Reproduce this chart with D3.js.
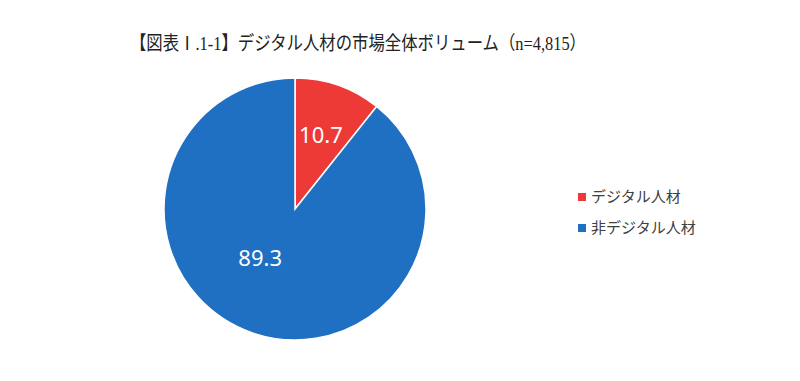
<!DOCTYPE html>
<html>
<head>
<meta charset="utf-8">
<script src="https://cdn.jsdelivr.net/npm/d3@7"></script>
<style>
  body { margin: 0; background: #fff; }
  svg { display: block; }
</style>
</head>
<body>
<div id="chart"></div>
<script>
// data
var categories = ['デジタル人材', '非デジタル人材'];
var values = [10.7, 89.3];
var colors = ['#EE3A36', '#1F6FC2'];
var title = '【図表Ⅰ.1-1】デジタル人材の市場全体ボリューム（n=4,815）';

var width = 800;
var height = 381;
var radius = 131;
var cx = 295, cy = 209;

var svg = d3.select('#chart').append('svg')
  .attr('width', width)
  .attr('height', height);

svg.append('text')
  .attr('x', 130)
  .attr('y', 50)
  .attr('font-family', '"Liberation Serif", "Noto Sans CJK JP", serif')
  .attr('font-size', 19)
  .attr('textLength', 456)
  .attr('lengthAdjust', 'spacingAndGlyphs')
  .attr('fill', '#222')
  .text(title);

var dataset = categories.map(function (c, i) { return { label: c, count: values[i] }; });

var pie = d3.pie()
  .value(function (d) { return d.count; })
  .sort(null);

var arc = d3.arc().innerRadius(0).outerRadius(radius);

var g = svg.append('g')
  .attr('transform', 'translate(' + cx + ',' + cy + ')');

var color = d3.scaleOrdinal().domain(categories).range(colors);

g.selectAll('path')
  .data(pie(dataset))
  .enter()
  .append('path')
  .attr('d', arc)
  .attr('fill', function (d) { return color(d.data.label); })
  .attr('stroke', '#fff')
  .attr('stroke-width', 1.5);

// label placement: roughly like Excel's best-fit
var labelArcs = [
  d3.arc().innerRadius(radius * 0.6).outerRadius(radius * 0.6),
  d3.arc().innerRadius(radius * 0.46).outerRadius(radius * 0.46)
];
var labelShift = [0, 0.28];

g.selectAll('.lbl')
  .data(pie(dataset))
  .enter()
  .append('text')
  .attr('class', 'lbl')
  .attr('transform', function (d, i) {
    var mid = (d.startAngle + d.endAngle) / 2 + labelShift[i];
    var p = labelArcs[i].centroid({ startAngle: mid, endAngle: mid });
    return 'translate(' + p[0] + ',' + p[1] + ')';
  })
  .attr('text-anchor', 'middle')
  .attr('dy', '0.36em')
  .attr('font-family', '"Noto Sans", "Open Sans", sans-serif')
  .attr('font-size', 22)
  .attr('fill', '#fff')
  .text(function (d) { return d.data.count.toFixed(1); });

var legend = svg.selectAll('.legend')
  .data(categories)
  .enter()
  .append('g')
  .attr('class', 'legend')
  .attr('transform', function (d, i) {
    return 'translate(578,' + (193 + i * 31) + ')';
  });

legend.append('rect')
  .attr('width', 8)
  .attr('height', 8)
  .attr('fill', function (d) { return color(d); });

legend.append('text')
  .attr('x', 13)
  .attr('y', 9)
  .attr('font-family', '"Noto Sans CJK JP", sans-serif')
  .attr('font-size', 15)
  .attr('fill', '#404040')
  .text(function (d) { return d; });
</script>
</body>
</html>
